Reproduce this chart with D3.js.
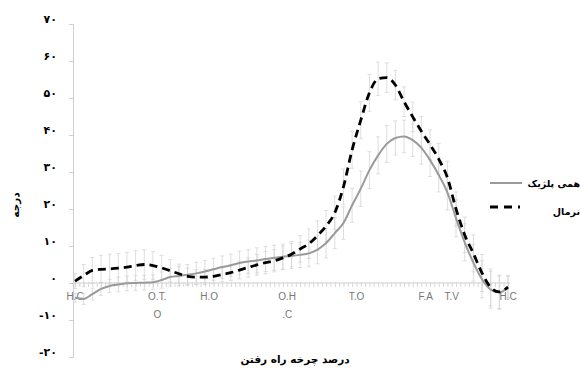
<!DOCTYPE html>
<html>
<head>
<meta charset="utf-8">
<script src="https://cdn.jsdelivr.net/npm/d3@7"></script>
<style>
html,body{margin:0;padding:0;background:#fff;overflow:hidden;}
svg{display:block;}
</style>
</head>
<body>
<svg id="chart" width="581" height="368"></svg>
<script>
// ---- data ----
const gaitPercent = d3.range(0, 101, 2);
const normalMean = [0.5,2,3.4,3.7,3.8,4.0,4.3,4.7,5.0,4.7,4.1,3.3,2.5,1.8,1.6,1.6,1.8,2.3,2.8,3.5,4.2,4.9,5.5,6.0,6.8,7.8,9.2,10.6,12.8,15.4,19,26,36,44,51.4,55.2,55.5,53.5,49,44.9,41,37.4,33.5,28.5,20,13,8,2.7,-1.2,-2.4,-1.1];
const normalSD   = [2,3,3.5,3.8,4,4,4,4,4,3.8,3.4,3,2.6,2.2,2,2,2,2,2.2,2.4,2.6,2.8,3,3,3.2,3.4,3.6,4,4,4.2,4.5,4.8,5,5,5,4.5,4,4,4,4,4,4,4.2,4.4,4.6,4.8,5,5,5,4.5,3];
const hemiMean   = [-4,-4.3,-3,-1.6,-0.8,-0.4,-0.1,0,0.1,0.2,0.8,1.6,1.9,2.2,2.6,3.1,3.7,4.3,4.8,5.4,5.8,6.1,6.5,6.8,7.1,7.3,7.6,8.0,9.0,10.8,13.5,16.2,21,25.5,30.5,34.5,37.6,39.2,39.6,38.6,36.5,33.2,29.2,24.5,17.5,11,5.5,1,-1.8,-2.6,-1];
const hemiSD     = [1.2,1.5,1.6,1.8,1.8,2,2,2,2,2,2.2,2.4,2.6,2.8,3,3,3,3,3,3.2,3.2,3.4,3.4,3.4,3.4,3.4,3.4,3.6,3.8,4,4.2,4.4,4.6,4.8,5,5,5,4.6,4.4,4.4,4.4,4.4,4.6,4.8,5,5,5,5,5,4.5,3];
const yTicks = [-20,-10,0,10,20,30,40,50,60,70];
const eventPos = [0,19,31,49,65,81,87,100];
const eventLines = [["H.C"],["O.T.","O"],["H.O"],["O.H",".C"],["T.O"],["F.A"],["T.V"],["H.C"]];
const seriesNames = ["همی پلژیک","نرمال"];
const xTitle = "درصد چرخه راه رفتن";
const yTitle = "درجه";

// ---- chart ----
const svg = d3.select("#chart");
const x = d3.scaleLinear().domain([0,100]).range([75,508]);
const y = d3.scaleLinear().domain([-20,70]).range([357,24]);
const fa = s => String(s).replace(/\d/g, d => "۰۱۲۳۴۵۶۷۸۹"[+d]);

// y axis
const yAxis = d3.axisLeft(y).tickValues(yTicks).tickSize(4).tickFormat(fa);
const gy = svg.append("g").attr("transform","translate(73,0)").call(yAxis);
gy.select(".domain").attr("stroke","#d0d0d0");
gy.selectAll(".tick line").attr("stroke","#d0d0d0");
gy.selectAll(".tick text").attr("x",-16).attr("dy","-0.1em")
  .attr("font-family","DejaVu Sans").attr("font-weight","bold").attr("font-size",11).attr("fill","#000");

// x axis at y=0
const xAxis = d3.axisBottom(x).tickValues(d3.range(0,101,1)).tickSize(4).tickFormat("");
const gx = svg.append("g").attr("transform",`translate(0,${y(0)})`).call(xAxis);
gx.select(".domain").attr("stroke","#cfcfcf").attr("d",`M${73},0H${510}`);
gx.selectAll(".tick line").attr("stroke","#d8d8d8").attr("y1",-1);

// event labels
const ev = svg.append("g").attr("font-family","Liberation Sans, Arial").attr("font-size",10).attr("fill","#777").attr("text-anchor","middle");
eventLines.forEach((lines,i)=>{
  lines.forEach((t,j)=>{
    ev.append("text").attr("x",x(eventPos[i])).attr("y",y(0)+17+j*18).text(t);
  });
});

// error bars
function errorBars(mean, sd){
  const g = svg.append("g").attr("stroke","#d6d6d6").attr("stroke-width",0.8).attr("fill","none");
  gaitPercent.forEach((p,i)=>{
    const cx = x(p), y1 = y(mean[i]+sd[i]), y2 = y(mean[i]-sd[i]);
    g.append("line").attr("x1",cx).attr("x2",cx).attr("y1",y1).attr("y2",y2);
    g.append("line").attr("x1",cx-2).attr("x2",cx+2).attr("y1",y1).attr("y2",y1);
    g.append("line").attr("x1",cx-2).attr("x2",cx+2).attr("y1",y2).attr("y2",y2);
  });
}
errorBars(normalMean, normalSD);
errorBars(hemiMean, hemiSD);

const line = d3.line().x((d,i)=>x(gaitPercent[i])).y(d=>y(d)).curve(d3.curveMonotoneX);
svg.append("path").datum(hemiMean).attr("d",line).attr("fill","none").attr("stroke","#9a9a9a").attr("stroke-width",2);
svg.append("path").datum(normalMean).attr("d",line).attr("fill","none").attr("stroke","#000").attr("stroke-width",2.8).attr("stroke-dasharray","8,5");

// legend
const lg = svg.append("g");
lg.append("line").attr("x1",490).attr("x2",522).attr("y1",183).attr("y2",183).attr("stroke","#9a9a9a").attr("stroke-width",2);
lg.append("line").attr("x1",490).attr("x2",520).attr("y1",207).attr("y2",207).attr("stroke","#000").attr("stroke-width",2.8).attr("stroke-dasharray","8,6");
lg.append("text").attr("x",580).attr("y",187).attr("text-anchor","end").attr("font-family","DejaVu Sans").attr("font-weight","bold").attr("font-size",9.5).text(seriesNames[0]);
lg.append("text").attr("x",580).attr("y",215).attr("text-anchor","end").attr("font-family","DejaVu Sans").attr("font-weight","bold").attr("font-size",9.5).text(seriesNames[1]);

// titles
svg.append("text").attr("x",295).attr("y",363).attr("text-anchor","middle").attr("font-family","DejaVu Sans").attr("font-weight","bold").attr("font-size",10.5).text(xTitle);
svg.append("text").attr("transform","translate(19,205) rotate(-90)").attr("text-anchor","middle").attr("font-family","DejaVu Sans").attr("font-weight","bold").attr("font-size",10.5).text(yTitle);
</script>
</body>
</html>
